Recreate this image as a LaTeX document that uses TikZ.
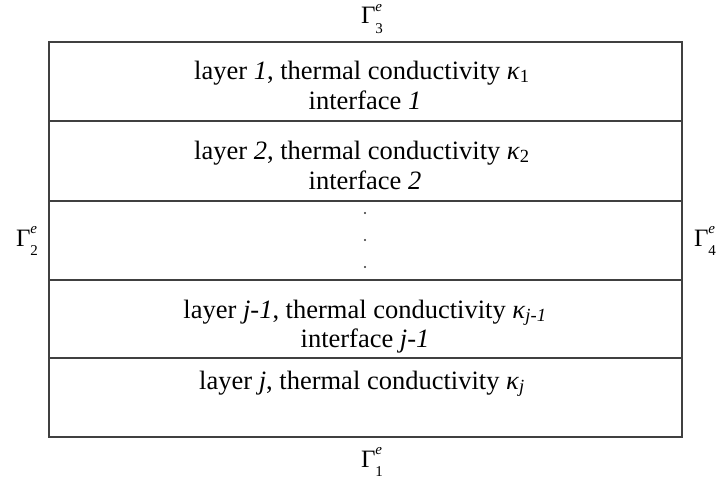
\documentclass[tikz,border=0pt]{standalone}
\usepackage{fontspec}
\setmainfont{Liberation Serif}
\newcommand{\GamLab}[2]{Γ\makebox[0pt][l]{\raisebox{0.5em}{\fontsize{15}{15}\selectfont\textit{#1}}}\raisebox{-0.38em}{\fontsize{15}{15}\selectfont #2}}
\newcommand{\kap}[1]{\textit{κ}\textsubscript{#1}}
\begin{document}
\begin{tikzpicture}[x=1pt,y=-1pt,
  lay/.style={anchor=base,inner sep=0pt,font=\fontsize{26.5}{30}\selectfont},
  gam/.style={inner sep=0pt,font=\fontsize{25}{28}\selectfont},
  bline/.style={line width=1.6pt,draw=black!75},
  dotmark/.style={circle,fill=black!80,inner sep=0pt,minimum size=2.2pt}]
\useasboundingbox (0,0) rectangle (719,483);
\coordinate (tl) at (49,42);
\coordinate (br) at (682,437);
\draw[bline] (tl) rectangle (br);
\foreach \y/\n in {121/a,201/b,280/c,358/d}{
  \coordinate (l\n) at (49,\y);
  \coordinate (r\n) at (682,\y);
  \draw[bline] (l\n) -- (r\n);
}
\node[lay] (t1) at (362,79) {layer \textit{1}, thermal conductivity \kap{1}};
\node[lay] (i1) at (365,109) {interface \textit{1}};
\node[lay] (t2) at (362,159) {layer \textit{2}, thermal conductivity \kap{2}};
\node[lay] (i2) at (365,189) {interface \textit{2}};
\node[dotmark] (d1) at (365,213) {};
\node[dotmark] (d2) at (365,240) {};
\node[dotmark] (d3) at (365,267) {};
\node[lay] (t3) at (365,318) {layer \textit{j-1}, thermal conductivity \textit{κ}\textsubscript{\textit{j-1}}};
\node[lay] (i3) at (365,347) {interface \textit{j-1}};
\node[lay] (t4) at (362,389) {layer \textit{j}, thermal conductivity \textit{κ}\textsubscript{\textit{j}}};
\node[gam] (g3) at (372,19) {\GamLab{e}{3}};
\node[gam] (g1) at (372,462) {\GamLab{e}{1}};
\node[gam] (g2) at (27,241) {\GamLab{e}{2}};
\node[gam] (g4) at (705,241) {\GamLab{e}{4}};
\end{tikzpicture}
\end{document}
